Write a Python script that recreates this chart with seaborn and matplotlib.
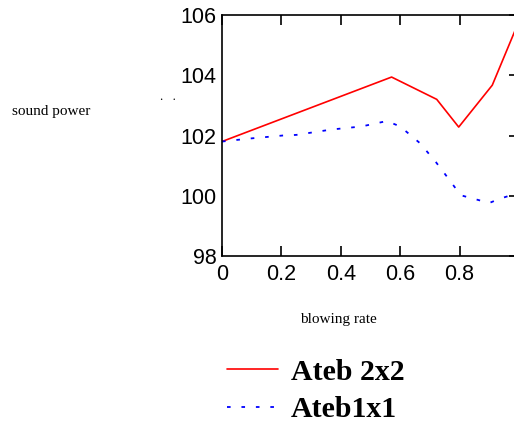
import matplotlib
matplotlib.use("Agg")
import matplotlib.pyplot as plt
import numpy as np
import pandas as pd
import seaborn as sns

# blowing rate vs sound power
x_ateb2 = [0.0, 0.571, 0.723, 0.797, 0.91, 1.0]
y_ateb2 = [101.8, 103.94, 103.2, 102.28, 103.67, 105.8]

x_ateb1 = [0.0, 0.094, 0.205, 0.25, 0.37, 0.47, 0.555, 0.6, 0.666, 0.72, 0.76, 0.79, 0.81, 0.9, 0.935, 1.0]
y_ateb1 = [101.8, 101.9, 102.0, 102.02, 102.2, 102.3, 102.48, 102.3, 101.75, 101.12, 100.6, 100.2, 100.0, 99.76, 99.9, 100.1]

labels = ["Ateb 2x2", "Ateb1x1"]
x_ticks = [0, 0.2, 0.4, 0.6, 0.8]
x_ticklabels = ["0", "0.2", "0.4", "0.6", "0.8"]
y_ticks = [98, 100, 102, 104, 106]

sns.set_style("white")
plt.rcParams['font.family'] = ['Liberation Serif', 'DejaVu Serif']
plt.rcParams['text.color'] = 'black'
plt.rcParams['xtick.color'] = 'black'
plt.rcParams['ytick.color'] = 'black'

W, H = 514, 421
fig = plt.figure(figsize=(W / 100, H / 100), dpi=100)
ax = fig.add_axes([222 / W, 1 - 256 / H, 297 / W, 241 / H])

df = pd.concat([
    pd.DataFrame({'x': x_ateb2, 'y': y_ateb2, 'series': labels[0]}),
    pd.DataFrame({'x': x_ateb1, 'y': y_ateb1, 'series': labels[1]}),
])

sns.lineplot(data=df[df.series == labels[0]], x='x', y='y', color='#ff0000',
             lw=1.2, sort=False, ax=ax, label=labels[0], legend=False)
sns.lineplot(data=df[df.series == labels[1]], x='x', y='y', color='#0000ff',
             lw=1.3, sort=False, ax=ax, label=labels[1], legend=False,
             linestyle=(0, (2, 6)))

ax.set_xlim(0, 1)
ax.set_ylim(98, 106)
ax.set_xticks(x_ticks)
ax.set_xticklabels(x_ticklabels)
ax.set_yticks(y_ticks)
ax.set_xlabel('')
ax.set_ylabel('')

for t in ax.get_xticklabels() + ax.get_yticklabels():
    t.set_fontfamily(['Liberation Sans', 'DejaVu Sans'])
    t.set_fontsize(15.5)
    t.set_color('black')

ax.tick_params(axis='x', direction='in', top=True, bottom=True, length=7, width=1.2, pad=6)
ax.tick_params(axis='y', direction='in', left=False, right=True, length=7, width=1.2, pad=4)
for s in ax.spines.values():
    s.set_color('black')
    s.set_linewidth(1.2)

fig.text(12 / W, 1 - 112 / H, 'sound power', fontsize=11, va='center', ha='left')
fig.text(160 / W, 1 - 97 / H, '.   .', fontsize=9, va='center', ha='left')
fig.text(338 / W, 1 - 320 / H, 'blowing rate', fontsize=11, va='center', ha='center')

handles, _ = ax.get_legend_handles_labels()
leg = fig.legend(handles, labels, loc='upper left', bbox_to_anchor=(200 / W, 1 - 332 / H),
                 frameon=False, handlelength=1.7, handletextpad=0.45, labelspacing=0.35,
                 prop=dict(family='Liberation Serif', weight='bold', size=21.5))

fig.savefig('out.png', dpi=100)
